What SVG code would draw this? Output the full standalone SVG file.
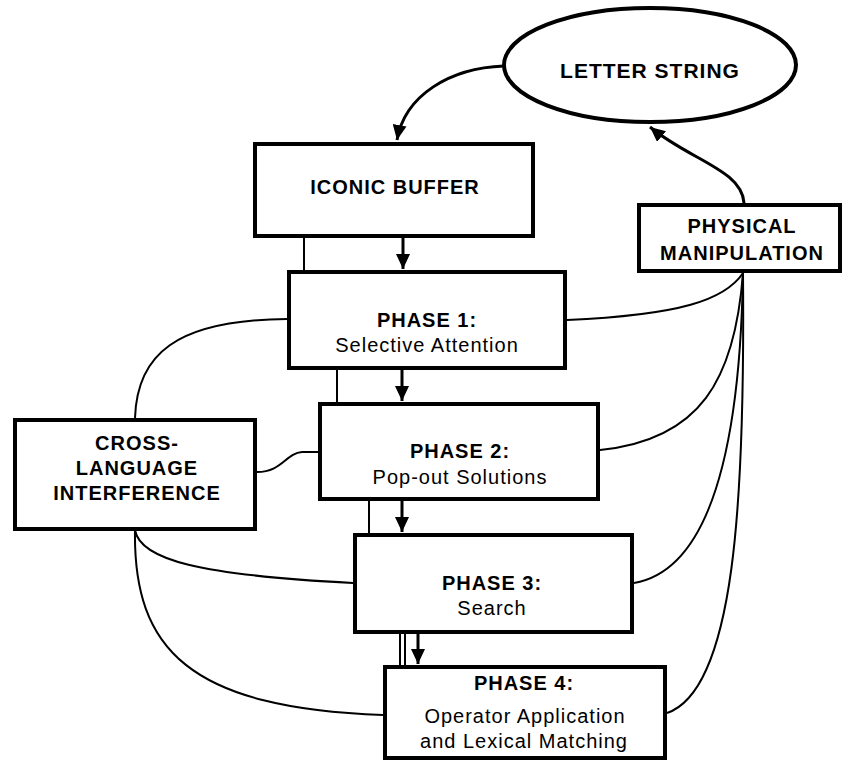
<svg xmlns="http://www.w3.org/2000/svg" width="843" height="762" viewBox="0 0 843 762">
<style>
.box{fill:#fff;stroke:#000;stroke-width:4}
.t{font-family:"Liberation Sans",Arial,sans-serif;font-size:20px;letter-spacing:1px;fill:#000;text-anchor:middle}
.b{font-weight:bold}
.c{fill:none;stroke:#000;stroke-width:2}
.a{fill:none;stroke:#000;stroke-width:3;marker-end:url(#ah)}
</style>
<defs>
<marker id="ah" markerUnits="userSpaceOnUse" markerWidth="16" markerHeight="14" refX="15" refY="7" orient="auto">
<path d="M0,0 L15,7 L0,14 z" fill="#000"/>
</marker>
</defs>
<rect width="843" height="762" fill="#fff"/>
<g id="connectors">
<path class="a" d="M504,66 C450,68 405,95 397,140"/>
<path class="a" d="M744,203 C742,170 690,160 650,127"/>
<path class="c" d="M304,238 L304,270"/>
<path class="a" d="M403,238 L403,269"/>
<path class="c" d="M337,370 L337,402"/>
<path class="a" d="M402,370 L402,401"/>
<path class="c" d="M369,501 L369,533"/>
<path class="a" d="M402,501 L402,532"/>
<path class="c" d="M400,634 L400,665"/>
<path class="c" d="M405,634 L405,665"/>
<path class="a" d="M418,634 L418,664"/>
<path class="c" d="M135,418 C137,355 175,320 287,319"/>
<path class="c" d="M257,472 C282,472 286,453 302,452 L318,452"/>
<path class="c" d="M135,530 C140,560 200,575 353,583"/>
<path class="c" d="M135,530 C133,650 190,708 383,715"/>
<path class="c" d="M743,273 C725,300 680,315 567,320"/>
<path class="c" d="M743,273 C735,380 700,440 600,450"/>
<path class="c" d="M743,273 C740,450 710,570 634,583"/>
<path class="c" d="M743,273 C745,500 735,690 667,713"/>
</g>
<g id="letter-string">
<ellipse class="box" cx="650" cy="65" rx="146" ry="57"/>
<text class="t b" x="650" y="78" style="font-size:21px">LETTER STRING</text>
</g>
<g id="iconic-buffer">
<rect class="box" x="255" y="144" width="278" height="92"/>
<text class="t b" x="395" y="194">ICONIC BUFFER</text>
</g>
<g id="physical-manipulation">
<rect class="box" x="639" y="205" width="201" height="66"/>
<text class="t b" x="742" y="233">PHYSICAL</text>
<text class="t b" x="742" y="260">MANIPULATION</text>
</g>
<g id="phase1">
<rect class="box" x="289" y="272" width="276" height="96"/>
<text class="t b" x="427" y="327">PHASE 1:</text>
<text class="t" x="427" y="352">Selective Attention</text>
</g>
<g id="phase2">
<rect class="box" x="320" y="404" width="278" height="95"/>
<text class="t b" x="460" y="458">PHASE 2:</text>
<text class="t" x="460" y="484">Pop-out Solutions</text>
</g>
<g id="cross-language">
<rect class="box" x="15" y="420" width="240" height="109"/>
<text class="t b" x="137" y="450">CROSS-</text>
<text class="t b" x="137" y="475">LANGUAGE</text>
<text class="t b" x="137" y="500">INTERFERENCE</text>
</g>
<g id="phase3">
<rect class="box" x="355" y="535" width="277" height="97"/>
<text class="t b" x="492" y="590">PHASE 3:</text>
<text class="t" x="492" y="615">Search</text>
</g>
<g id="phase4">
<rect class="box" x="385" y="667" width="280" height="91"/>
<text class="t b" x="524" y="690">PHASE 4:</text>
<text class="t" x="525" y="723">Operator Application</text>
<text class="t" x="524" y="748">and Lexical Matching</text>
</g>
</svg>
